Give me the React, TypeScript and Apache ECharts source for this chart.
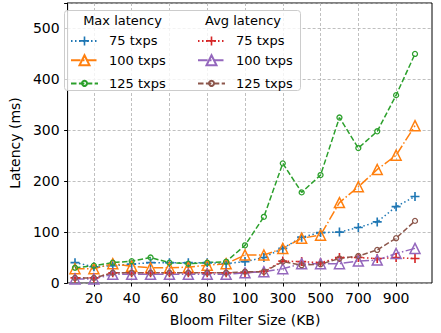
import React, { useEffect, useRef } from 'react';
import * as echarts from 'echarts';

const categories = ['10', '20', '30', '40', '50', '60', '70', '80', '90', '100', '200', '300', '400', '500', '600', '700', '800', '900', '1000'];
const maxLatency75 = [40, 32, 34, 37, 40, 40, 40, 40, 38, 42, 50, 68, 90, 99, 100, 109, 120, 150, 170];
const maxLatency100 = [28, 28, 38, 33, 30, 30, 31, 35, 38, 55, 55, 68, 88, 94, 158, 189, 223, 251, 309];
const maxLatency125 = [30, 34, 40, 43, 50, 40, 38, 40, 42, 74, 130, 235, 178, 212, 325, 265, 298, 369, 450];
const avgLatency75 = [10, 10, 20, 20, 20, 20, 20, 20, 20, 20, 23, 43, 42, 40, 50, 50, 48, 50, 48];
const avgLatency100 = [8, 8, 17, 17, 17, 17, 17, 17, 17, 20, 22, 28, 38, 38, 38, 43, 45, 58, 68];
const avgLatency125 = [10, 10, 20, 20, 20, 20, 20, 20, 20, 22, 22, 42, 35, 37, 48, 53, 65, 88, 122];
const legendTitles = ['Max latency', 'Avg latency'];
const xAxisTitle = 'Bloom Filter Size (KB)';
const yAxisTitle = 'Latency (ms)';

const FONT = 'DejaVu Sans';
const PLUS = 'path://M4.1,0H5.9V4.1H10V5.9H5.9V10H4.1V5.9H0V4.1H4.1Z';
const DOTTED = [1.5, 2.5];
const DASHED = [5.5, 2.4];
const DASHDOT = [9.6, 2.4, 1.5, 2.4];

type Marker = 'plus' | 'tri' | 'circ';
const MARKER_SIZE: Record<Marker, number> = { plus: 9, tri: 10, circ: 5 };

// frame of the plot (spines) and inner padding so the first/last category sit inside it
const FRAME = { left: 58, right: 9, top: 3, bottom: 50 };
const PAD = 17;

const everyOther = (index: number) => index % 2 === 1;

function makeSeries(name: string, values: number[], color: string, dash: any, marker: Marker) {
  const base: any = {
    name,
    type: 'line',
    xAxisIndex: 0,
    yAxisIndex: 0,
    data: values,
    lineStyle: { color, width: 1.5, type: dash },
    emphasis: { disabled: true },
    symbolSize: MARKER_SIZE[marker],
  };
  if (marker === 'plus') {
    base.symbol = PLUS;
    base.itemStyle = { color, borderWidth: 0 };
  } else if (marker === 'tri') {
    base.symbol = 'triangle';
    base.itemStyle = { color: 'rgba(255,255,255,0)', borderColor: color, borderWidth: 1.5 };
  } else {
    base.symbol = 'circle';
    base.itemStyle = { color: 'rgba(255,255,255,0)', borderColor: color, borderWidth: 1.3 };
  }
  return base;
}

const legendRows: { name: string; marker: Marker; left: number; cy: number }[] = [
  { name: 'Max 75 txps', marker: 'plus', left: 70, cy: 40 },
  { name: 'Max 100 txps', marker: 'tri', left: 70, cy: 60 },
  { name: 'Max 125 txps', marker: 'circ', left: 70, cy: 80 },
  { name: 'Avg 75 txps', marker: 'plus', left: 197, cy: 40 },
  { name: 'Avg 100 txps', marker: 'tri', left: 197, cy: 60 },
  { name: 'Avg 125 txps', marker: 'circ', left: 197, cy: 80 },
];

export default function App() {
  const ref = useRef<HTMLDivElement>(null);
  useEffect(() => {
    const chart = echarts.init(ref.current!, null, { renderer: 'svg' });
    const legends = legendRows.map((r) => {
      const h = MARKER_SIZE[r.marker] / 0.8;
      return {
        orient: 'vertical',
        left: r.left,
        top: r.cy - h / 2,
        itemWidth: 27,
        itemHeight: h,
        padding: 0,
        z: 6,
        data: [r.name],
        formatter: (n: string) => n.replace(/^(Max|Avg) /, ''),
        textStyle: { fontFamily: FONT, fontSize: 13, color: '#000', lineHeight: h, padding: [0, 0, 0, 6] },
      };
    });
    const gridLine = { color: '#b0b0b0', width: 0.8, type: [3, 2] };
    const option: any = {
      animation: false,
      textStyle: { fontFamily: FONT },
      grid: [
        { left: FRAME.left + PAD, right: FRAME.right + PAD, top: FRAME.top, bottom: FRAME.bottom },
        { left: FRAME.left, right: FRAME.right, top: FRAME.top, bottom: FRAME.bottom, show: true, borderColor: '#000', borderWidth: 1 },
      ],
      xAxis: [
        {
          type: 'category',
          gridIndex: 0,
          data: categories,
          boundaryGap: false,
          name: xAxisTitle,
          nameLocation: 'middle',
          nameGap: 30,
          nameTextStyle: { fontFamily: FONT, fontSize: 14, color: '#000' },
          axisLine: { show: false },
          axisTick: { show: true, length: 3.5, interval: everyOther, lineStyle: { color: '#000' } },
          axisLabel: { fontFamily: FONT, fontSize: 14, color: '#000', margin: 8, interval: everyOther },
          splitLine: { show: true, interval: everyOther, lineStyle: gridLine },
        },
        { type: 'value', gridIndex: 1, min: 0, max: 1, show: false },
      ],
      yAxis: [
        { type: 'value', gridIndex: 0, min: 0, max: 550, show: false },
        {
          type: 'value',
          gridIndex: 1,
          min: 0,
          max: 550,
          interval: 100,
          name: yAxisTitle,
          nameLocation: 'middle',
          nameGap: 44,
          nameTextStyle: { fontFamily: FONT, fontSize: 14, color: '#000' },
          axisLine: { show: true, onZero: false, lineStyle: { color: '#000', width: 1 } },
          axisTick: { show: true, length: 3.5, lineStyle: { color: '#000' } },
          axisLabel: {
            fontFamily: FONT,
            fontSize: 14,
            color: '#000',
            margin: 8,
            formatter: (v: number) => (v % 100 === 0 ? String(v) : ''),
          },
          splitLine: { show: true, lineStyle: gridLine },
        },
      ],
      legend: legends,
      graphic: [
        {
          type: 'rect',
          z: 3,
          shape: { x: 64.5, y: 10.5, width: 236, height: 80, r: 3 },
          style: { fill: 'rgba(255,255,255,0.8)', stroke: '#cccccc', lineWidth: 1 },
        },
        {
          type: 'text',
          z: 7,
          x: 122.5,
          y: 20,
          style: { text: legendTitles[0], font: `13px "${FONT}"`, fill: '#000', align: 'center', verticalAlign: 'middle' },
        },
        {
          type: 'text',
          z: 7,
          x: 243,
          y: 20,
          style: { text: legendTitles[1], font: `13px "${FONT}"`, fill: '#000', align: 'center', verticalAlign: 'middle' },
        },
      ],
      series: [
        makeSeries('Max 75 txps', maxLatency75, '#1f77b4', DOTTED, 'plus'),
        makeSeries('Max 100 txps', maxLatency100, '#ff7f0e', DASHDOT, 'tri'),
        makeSeries('Max 125 txps', maxLatency125, '#2ca02c', DASHED, 'circ'),
        makeSeries('Avg 75 txps', avgLatency75, '#d62728', DOTTED, 'plus'),
        makeSeries('Avg 100 txps', avgLatency100, '#9467bd', DASHDOT, 'tri'),
        makeSeries('Avg 125 txps', avgLatency125, '#8c564b', DASHED, 'circ'),
      ],
    };
    chart.setOption(option);
    return () => chart.dispose();
  }, []);
  return <div ref={ref} style={{ position: 'absolute', left: 0, top: 0, width: 441, height: 333 }} />;
}
